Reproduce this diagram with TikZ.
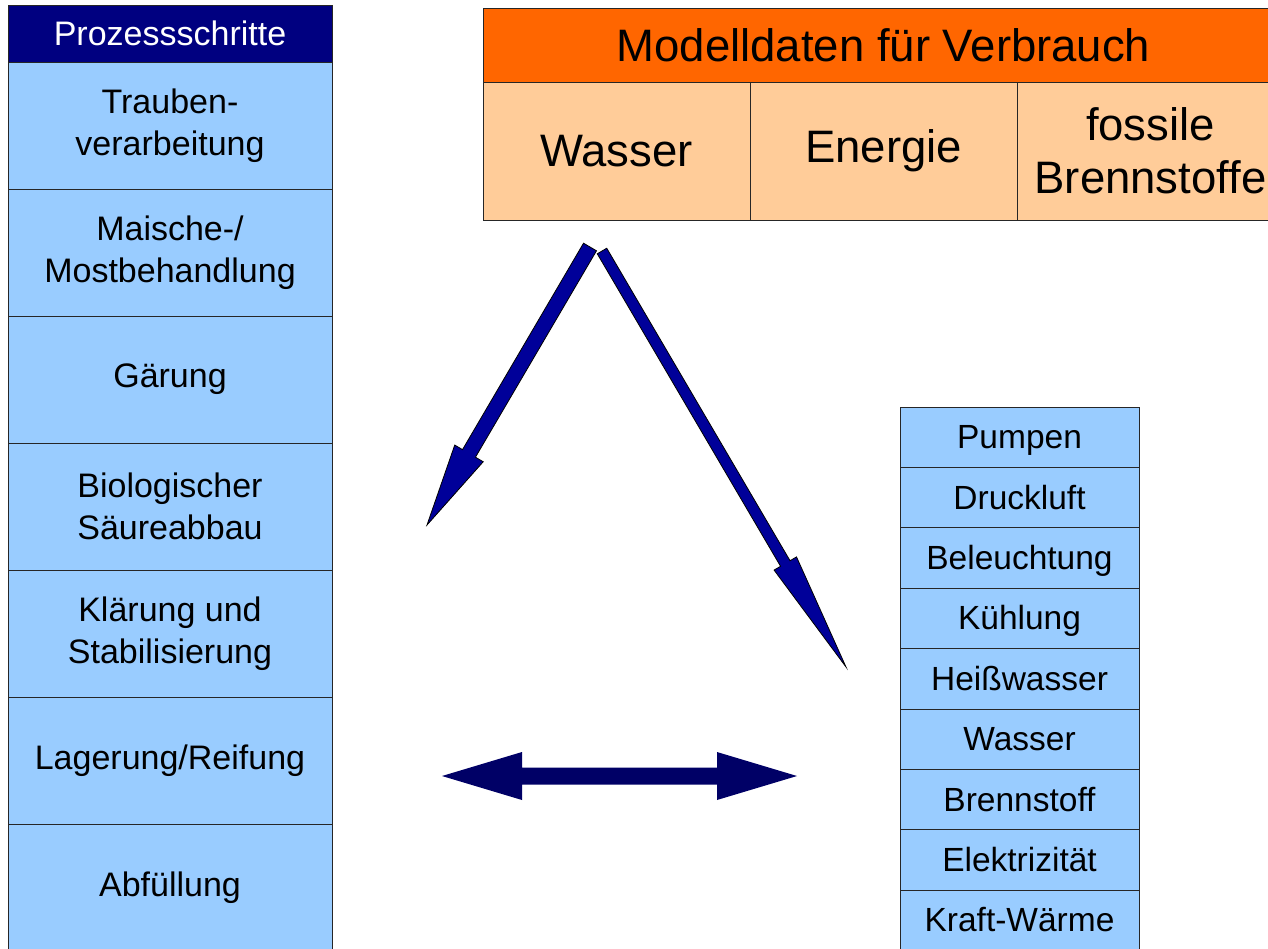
\documentclass[tikz,border=0pt]{standalone}
\usepackage{fontspec}
\setmainfont{Liberation Sans}
\usetikzlibrary{positioning,calc}

\definecolor{kopfblau}{HTML}{000080}
\definecolor{hellblau}{HTML}{99CCFF}
\definecolor{kopforange}{HTML}{FF6600}
\definecolor{pfirsich}{HTML}{FFCC99}
\definecolor{pfeilblau}{HTML}{000099}
\definecolor{pfeilnavy}{HTML}{000066}

\tikzset{
  zelle/.style={draw=black!85, line width=0.8pt, outer sep=0pt, inner sep=0pt, align=center},
  prozkopf/.style={zelle, fill=kopfblau, text=white, minimum width=324pt, minimum height=57pt, font=\fontsize{34}{40}\selectfont},
  prozschritt/.style={zelle, fill=hellblau, minimum width=324pt, minimum height=127pt, font=\fontsize{34}{42}\selectfont},
  modellkopf/.style={zelle, fill=kopforange, minimum width=801pt, minimum height=74pt, font=\fontsize{45.5}{53}\selectfont},
  modellzelle/.style={zelle, fill=pfirsich, minimum width=267pt, minimum height=138pt, font=\fontsize{45.5}{53}\selectfont},
  verbraucher/.style={zelle, fill=hellblau, minimum width=239pt, minimum height=60.4pt, text height=26pt, text depth=3pt, font=\fontsize{33.5}{38}\selectfont},
  blockpfeil/.style={fill=pfeilblau, draw=black, line width=0.8pt, line join=miter},
}

% block arrow: start, tip, half shaft width, half head width, head length
\newcommand{\blockpfeil}[6][]{%
  \coordinate (#2-h) at ($(#3)!#6!(#2)$);
  \filldraw[blockpfeil, #1] ($(#2)!#4!90:(#3)$) -- ($(#2-h)!#4!-90:(#2)$)
    -- ($(#2-h)!#5!-90:(#2)$) -- (#3) -- ($(#2-h)!#5!90:(#2)$)
    -- ($(#2-h)!#4!90:(#2)$) -- ($(#2)!#4!-90:(#3)$) -- cycle;
}

\begin{document}
\begin{tikzpicture}[x=1pt, y=-1pt]
  \useasboundingbox (0,0) rectangle (1268,949);
  \clip (0,0) rectangle (1268,949);

  % Prozessschritte
  \node[prozkopf] (pk) at (170,33.5) {Prozessschritte};
  \node[prozschritt, below=0pt of pk] (s1) {Trauben-\\verarbeitung};
  \node[prozschritt, below=0pt of s1] (s2) {Maische-/\\Mostbehandlung};
  \node[prozschritt, below=0pt of s2] (s3) {Gärung};
  \node[prozschritt, below=0pt of s3] (s4) {Biologischer\\Säureabbau};
  \node[prozschritt, below=0pt of s4] (s5) {Klärung und\\Stabilisierung};
  \node[prozschritt, below=0pt of s5] (s6) {Lagerung/Reifung};
  \node[prozschritt, below=0pt of s6] (s7) {Abfüllung};

  % Modelldaten
  \node[modellkopf] (md) at (883.5,45) {Modelldaten für Verbrauch};
  \node[modellzelle, anchor=north west] (wa) at (md.south west) {Wasser};
  \node[modellzelle, anchor=north west] (en) at (wa.north east) {Energie};
  \node[modellzelle, anchor=north west] (fb) at (en.north east) {fossile\\Brennstoffe};

  % Verbraucher
  \node[verbraucher] (v1) at (1019.5,437.2) {Pumpen};
  \node[verbraucher, below=0pt of v1] (v2) {Druckluft};
  \node[verbraucher, below=0pt of v2] (v3) {Beleuchtung};
  \node[verbraucher, below=0pt of v3] (v4) {Kühlung};
  \node[verbraucher, below=0pt of v4] (v5) {Heißwasser};
  \node[verbraucher, below=0pt of v5] (v6) {Wasser};
  \node[verbraucher, below=0pt of v6] (v7) {Brennstoff};
  \node[verbraucher, below=0pt of v7] (v8) {Elektrizität};
  \node[verbraucher, below=0pt of v8] (v9) {Kraft-Wärme};

  % Arrows
  \coordinate (pl) at (590,247);
  \coordinate (pl-spitze) at (427,525);
  \coordinate (pr) at (602,251);
  \coordinate (pr-spitze) at (846,667);
  \blockpfeil{pl}{pl-spitze}{7.5pt}{16.5pt}{83pt}
  \blockpfeil{pr}{pr-spitze}{5.5pt}{13pt}{120pt}

  \coordinate (dl) at (442,776);
  \coordinate (dr) at (797,776);
  \fill[pfeilnavy] (dl) -- ++(80,-24) -- ++(0,15.5) -- ++(195,0) -- ++(0,-15.5)
    -- (dr) -- ++(-80,24) -- ++(0,-15.5) -- ++(-195,0) -- ++(0,15.5) -- cycle;
\end{tikzpicture}
\end{document}
